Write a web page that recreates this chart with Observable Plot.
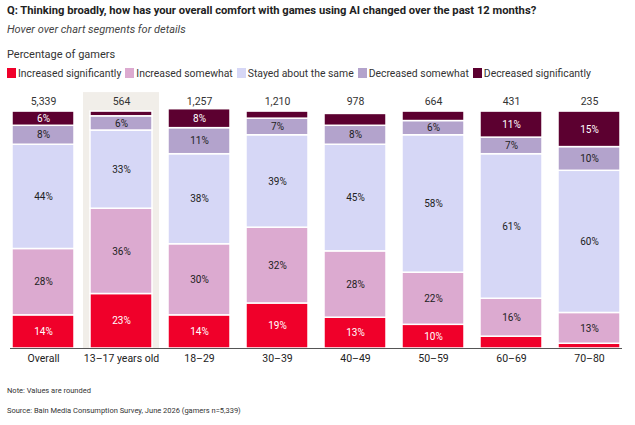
<!DOCTYPE html>
<html><head><meta charset="utf-8">
<script src="https://cdn.jsdelivr.net/npm/d3@7"></script>
<script src="https://cdn.jsdelivr.net/npm/@observablehq/plot@0.6"></script>
<style>
body{margin:0;font-family:Roboto,"Liberation Sans",sans-serif;color:#222;width:635px;height:425px;overflow:hidden;position:relative;background:#fff}
.t{position:absolute;left:7px;white-space:nowrap}
#chart{position:absolute;left:0;top:85px}
.sw{display:inline-block;width:9px;height:10px;vertical-align:-1px;margin-right:2px}
</style></head><body>
<div class="t" style="top:4px;font-size:11.2px;font-weight:bold">Q: Thinking broadly, how has your overall comfort with games using AI changed over the past 12 months?</div>
<div class="t" style="top:23px;font-size:11px;font-style:italic;color:#444">Hover over chart segments for details</div>
<div class="t" style="top:48px;font-size:11px;color:#333">Percentage of gamers</div>
<div class="t" id="legend" style="top:67px;font-size:10.4px;color:#333"></div>
<div id="chart"></div>
<div class="t" style="top:386px;font-size:7.5px;color:#333">Note: Values are rounded</div>
<div class="t" style="top:406px;font-size:7.5px;color:#333">Source: Bain Media Consumption Survey, June 2026 (gamers n=5,339)</div>
<script>
const groups = ["Overall","13–17 years old","18–29","30–39","40–49","50–59","60–69","70–80"];
const counts = ["5,339","564","1,257","1,210","978","664","431","235"];
const categories = ["Increased significantly","Increased somewhat","Stayed about the same","Decreased somewhat","Decreased significantly"];
const colors = ["#f0002a","#dcaad0","#d6d7f6","#b3a3cc","#5c0030"];
const incSig  = [14,23,14,19,13,10,5,2];
const incSome = [28,36,30,32,28,22,16,13];
const same    = [44,33,38,39,45,58,61,60];
const decSome = [8,6,11,7,8,6,7,10];
const decSig  = [6,2,8,3,5,4,11,15];
const series = [incSig,incSome,same,decSome,decSig];
const darkCats = [categories[0],categories[4]];

const data = [];
groups.forEach((g,i)=>series.forEach((s,k)=>data.push({group:g,cat:categories[k],value:s[i]})));

document.getElementById("legend").innerHTML = categories.map((c,k)=>
  `<span style="margin-right:4px"><span class="sw" style="background:${colors[k]}"></span>${c}</span>`).join("");

const stackOpts = {x:"group",y:"value",order:categories,z:"cat"};
const chart = Plot.plot({
  width:635,height:285,marginTop:0,marginBottom:22,marginLeft:10,marginRight:13,
  x:{domain:groups,paddingInner:0.2,paddingOuter:0,label:null,tickSize:0,tickPadding:6},
  y:{domain:[0,111],axis:null},
  color:{domain:categories,range:colors},
  style:{fontFamily:"Roboto, sans-serif",fontSize:"10.5px",color:"#222"},
  marks:[
    Plot.barY([groups[1]],{x:d=>d,y1:0,y2:108,fill:"#f1eee9",insetLeft:-7,insetRight:-7}),
    Plot.barY(data,Plot.stackY({...stackOpts,fill:"cat",stroke:"white",strokeWidth:1.5})),
    Plot.text(data,Plot.stackY({...stackOpts,text:d=>(d.value>=6&&!darkCats.includes(d.cat))?d.value+"%":"",fill:"#222",fontSize:10})),
    Plot.text(data,Plot.stackY({...stackOpts,text:d=>(d.value>=6&&darkCats.includes(d.cat))?d.value+"%":"",fill:"white",fontSize:10})),
    Plot.text(groups,{x:d=>d,y:104,text:(d,i)=>counts[i],fill:"#333",fontSize:10.5}),
    Plot.ruleY([0],{stroke:"#555"})
  ]
});
document.getElementById("chart").appendChild(chart);
</script>
</body></html>
